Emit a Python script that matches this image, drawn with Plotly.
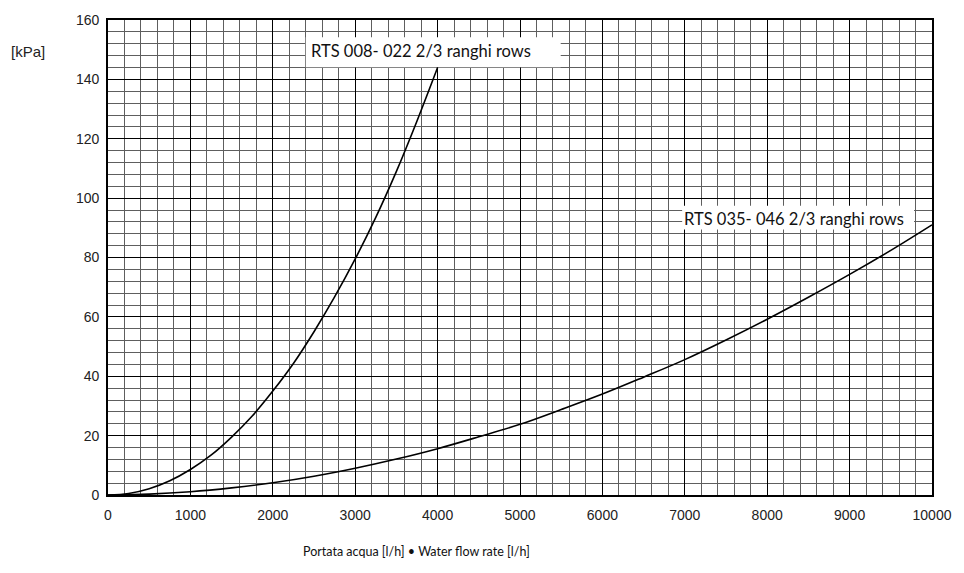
import plotly.graph_objects as go

# Water flow rate [l/h] and pressure drop [kPa] for the two coil groups
flow_small = [0, 250, 500, 750, 1000, 1250, 1500, 1750, 2000, 2250, 2500,
              2750, 3000, 3250, 3500, 3750, 4000]
dp_small = [0, 0.5, 2.1, 4.8, 8.6, 13.4, 19.5, 26.6, 35.0, 44.3, 55.0,
            66.7, 79.5, 93.5, 109.0, 126.0, 144.0]

flow_large = [0, 500, 1000, 1500, 2000, 2500, 3000, 3500, 4000, 4500, 5000,
              5500, 6000, 6500, 7000, 7500, 8000, 8500, 9000, 9500, 10000]
dp_large = [0, 0.3, 1.1, 2.4, 4.1, 6.3, 9.0, 12.1, 15.6, 19.6, 23.8,
            28.8, 34.0, 39.7, 45.6, 52.2, 59.2, 66.6, 74.3, 82.4, 91.0]

label_small = "RTS 008- 022 2/3 ranghi rows"
label_large = "RTS 035- 046 2/3 ranghi rows"

x_ticks = [0, 1000, 2000, 3000, 4000, 5000, 6000, 7000, 8000, 9000, 10000]
x_tick_text = [str(v) for v in x_ticks]
y_ticks = [0, 20, 40, 60, 80, 100, 120, 140, 160]

tick_font = dict(family="Liberation Sans, Arial", size=14, color="#222")
label_font = dict(family="Lato, Open Sans, sans-serif", size=16.5, color="#111")

fig = go.Figure()
for xs, ys in [(flow_small, dp_small), (flow_large, dp_large)]:
    fig.add_trace(go.Scatter(x=xs, y=ys, mode="lines",
                             line=dict(color="black", width=1.6, shape="spline"),
                             showlegend=False, hoverinfo="skip"))

# white boxes behind the curve labels (cover grid, stay under curves)
fig.add_shape(type="rect", x0=2400, x1=5494, y0=144.1, y1=154.2, xref="x", yref="y",
              fillcolor="white", line=dict(width=0), layer="between")
fig.add_shape(type="rect", x0=6968, x1=9782, y0=89.4, y1=97.4, xref="x", yref="y",
              fillcolor="white", line=dict(width=0), layer="between")

fig.add_annotation(x=2440, y=149.5, xref="x", yref="y", text=label_small,
                   showarrow=False, xanchor="left", yanchor="middle", font=label_font)
fig.add_annotation(x=6965, y=92.9, xref="x", yref="y", text=label_large,
                   showarrow=False, xanchor="left", yanchor="middle", font=label_font)

fig.add_annotation(x=9, y=47, xref="paper", yref="paper", text="[kPa]",
                   showarrow=False, xanchor="left", yanchor="middle",
                   font=dict(family="Liberation Sans, Arial", size=15, color="#222"))
fig.add_annotation(x=418, y=552, xref="paper", yref="paper", text="Portata acqua [l/h] \u2022 Water flow rate [l/h]",
                   showarrow=False, xanchor="center", yanchor="middle",
                   font=dict(family="Lato, Open Sans, sans-serif", size=12.5, color="#111"))

axis_common = dict(showline=True, linecolor="black", linewidth=1.6, mirror=True,
                   zeroline=False, showgrid=True, gridcolor="black", gridwidth=1,
                   ticks="", tickfont=tick_font)

fig.update_xaxes(range=[0, 10000], tickvals=x_ticks, ticktext=x_tick_text, ticklabelstandoff=6,
                 minor=dict(dtick=200, tick0=0, showgrid=True, gridcolor="#5e5e5e", gridwidth=1),
                 **axis_common)
fig.update_yaxes(range=[0, 160], tickvals=y_ticks, ticklabelstandoff=4,
                 minor=dict(dtick=4, tick0=0, showgrid=True, gridcolor="#5e5e5e", gridwidth=1),
                 **axis_common)

fig.update_layout(width=964, height=573, margin=dict(l=108, r=28, t=15, b=78),
                  paper_bgcolor="white", plot_bgcolor="white")

# paper-coordinate annotations given in pixels above; convert to fractions
W, H = 964, 573
pl, pr, pt, pb = 108, 28, 15, 78
pw, ph = W - pl - pr, H - pt - pb
for ann in fig.layout.annotations:
    if ann.xref == "paper":
        ann.x = (ann.x - pl) / pw
        ann.y = (H - pb - ann.y) / ph

fig.write_html("out.html")
